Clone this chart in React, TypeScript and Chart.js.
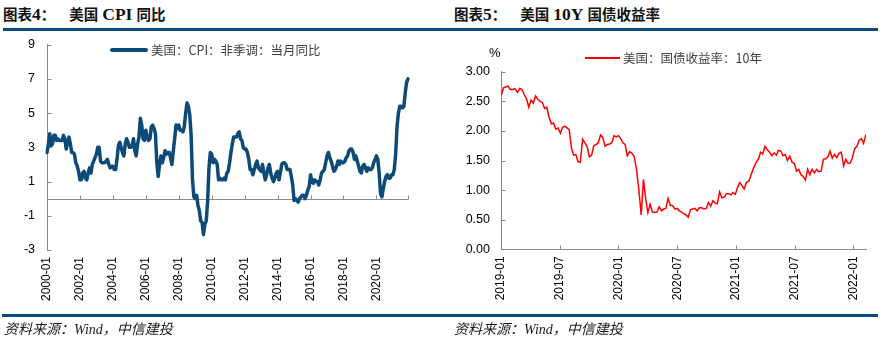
import React, { useEffect, useRef } from "react";
import { Chart, registerables } from "chart.js";

Chart.register(...registerables);

// ---------- Data ----------
// US CPI YoY, monthly, 2000-01 .. 2021-12
const cpiStartYear = 2000;
const cpiValues: number[] = [
  2.7, 3.2, 3.8, 3.1, 3.2, 3.7, 3.7, 3.4, 3.5, 3.4, 3.4, 3.4,
  3.7, 3.5, 2.9, 3.3, 3.6, 3.2, 2.7, 2.7, 2.6, 2.1, 1.9, 1.6,
  1.1, 1.1, 1.5, 1.6, 1.2, 1.1, 1.5, 1.8, 1.5, 2.0, 2.2, 2.4,
  2.6, 3.0, 3.0, 2.2, 2.1, 2.1, 2.1, 2.2, 2.3, 2.0, 1.8, 1.9,
  1.9, 1.7, 1.7, 2.3, 3.1, 3.3, 3.0, 2.7, 2.5, 3.2, 3.5, 3.3,
  3.0, 3.0, 3.1, 3.5, 2.8, 2.5, 3.2, 3.6, 4.7, 4.3, 3.5, 3.4,
  4.0, 3.6, 3.4, 3.5, 4.2, 4.3, 4.1, 3.8, 2.1, 1.3, 2.0, 2.5,
  2.1, 2.4, 2.8, 2.6, 2.7, 2.7, 2.4, 2.0, 2.8, 3.5, 4.3, 4.1,
  4.3, 4.0, 4.0, 3.9, 4.2, 5.0, 5.6, 5.4, 4.9, 3.7, 1.1, 0.1,
  0.0, 0.2, -0.4, -0.7, -1.3, -1.4, -2.1, -1.5, -1.3, -0.2, 1.8, 2.7,
  2.6, 2.1, 2.3, 2.2, 2.0, 1.1, 1.2, 1.1, 1.1, 1.2, 1.1, 1.5,
  1.6, 2.1, 2.7, 3.2, 3.6, 3.6, 3.6, 3.8, 3.9, 3.5, 3.4, 3.0,
  2.9, 2.9, 2.7, 2.3, 1.7, 1.7, 1.4, 1.7, 2.0, 2.2, 1.8, 1.7,
  1.6, 2.0, 1.5, 1.1, 1.4, 1.8, 2.0, 1.5, 1.2, 1.0, 1.2, 1.5,
  1.6, 1.1, 1.5, 2.0, 2.1, 2.1, 2.0, 1.7, 1.7, 1.7, 1.3, 0.8,
  -0.1, 0.0, -0.1, -0.2, 0.0, 0.1, 0.2, 0.2, 0.0, 0.2, 0.5, 0.7,
  1.4, 1.0, 0.9, 1.1, 1.0, 1.0, 0.8, 1.1, 1.5, 1.6, 1.7, 2.1,
  2.5, 2.7, 2.4, 2.2, 1.9, 1.6, 1.7, 1.9, 2.2, 2.0, 2.2, 2.1,
  2.1, 2.2, 2.4, 2.5, 2.8, 2.9, 2.9, 2.7, 2.3, 2.5, 2.2, 1.9,
  1.6, 1.5, 1.9, 2.0, 1.8, 1.6, 1.8, 1.7, 1.7, 1.8, 2.1, 2.3,
  2.5, 2.3, 1.5, 0.3, 0.1, 0.6, 1.0, 1.3, 1.4, 1.2, 1.2, 1.4,
  1.4, 1.7, 2.6, 4.2, 5.0, 5.4, 5.4, 5.3, 5.4, 6.2, 6.8, 7.0,
];
const cpiLabels: string[] = cpiValues.map(
  (_, i) => `${cpiStartYear + Math.floor(i / 12)}-${String((i % 12) + 1).padStart(2, "0")}`
);
const cpiYMin = -3;
const cpiYMax = 9;
const cpiYStep = 2;
const cpiLabelEvery = 24;
const cpiLegend = "美国：CPI：非季调：当月同比";

// US 10Y Treasury yield, weekly samples starting 2019-01-02
const yieldStartDate = "2019-01-02";
const yieldValues: number[] = [
  // 2019
  2.60, 2.73, 2.74, 2.76, 2.70, 2.70, 2.71, 2.65, 2.72, 2.69, 2.61, 2.54, 2.40,
  2.52, 2.47, 2.59, 2.53, 2.50, 2.48, 2.38, 2.40, 2.24, 2.12, 2.13, 2.03, 2.05,
  1.96, 2.06, 2.08, 2.05, 2.02, 1.71, 1.59, 1.60, 1.48, 1.47, 1.86, 1.80, 1.73,
  1.56, 1.59, 1.75, 1.77, 1.80, 1.93, 1.89, 1.74, 1.77, 1.78, 1.80, 1.92, 1.90,
  1.92,
  // 2020
  1.87, 1.80, 1.77, 1.58, 1.65, 1.62, 1.56, 1.33, 0.98, 0.58, 1.18, 0.86,
  0.62, 0.76, 0.63, 0.62, 0.63, 0.72, 0.65, 0.68, 0.69, 0.86, 0.74, 0.74, 0.68,
  0.69, 0.65, 0.63, 0.60, 0.58, 0.54, 0.67, 0.68, 0.69, 0.65, 0.70, 0.70, 0.68,
  0.69, 0.79, 0.73, 0.82, 0.78, 0.77, 0.97, 0.87, 0.88, 0.94, 0.94, 0.92, 0.96,
  0.93,
  // 2021
  1.04, 1.13, 1.08, 1.02, 1.13, 1.15, 1.27, 1.38, 1.47, 1.52, 1.64, 1.61, 1.74,
  1.68, 1.64, 1.58, 1.63, 1.59, 1.67, 1.66, 1.58, 1.60, 1.50, 1.57, 1.47, 1.45,
  1.32, 1.35, 1.26, 1.23, 1.17, 1.35, 1.26, 1.35, 1.29, 1.35, 1.31, 1.32, 1.52,
  1.53, 1.56, 1.66, 1.54, 1.60, 1.55, 1.62, 1.64, 1.41, 1.52, 1.45, 1.46, 1.55,
  // 2022
  1.70, 1.74, 1.84, 1.87, 1.79, 1.94,
];
const yieldOriginYear = 2019;
const yieldYMin = 0;
const yieldYMax = 3;
const yieldYStep = 0.5;
const yieldTickMonths = [0, 6, 12, 18, 24, 30, 36];
const yieldLegend = "美国：国债收益率：10年";

const footerText = "资料来源：Wind，中信建投";

// ---------- Styles ----------
const NAVY = "#0D4A78";
const RULE = "#0B4A7D";
const RED = "#FF0000";
const AXIS = "#8A8A8A";
const SANS = '"Liberation Sans", Arial, sans-serif';
const CJK = '"Noto Sans CJK SC", sans-serif';
const SERIF = '"Liberation Serif", "Times New Roman", serif';

function monthIndex(d: Date): number {
  const y = d.getUTCFullYear();
  const m = d.getUTCMonth();
  const day = d.getUTCDate();
  const dim = new Date(Date.UTC(y, m + 1, 0)).getUTCDate();
  return (y - yieldOriginYear) * 12 + m + (day - 1) / dim;
}
const yieldStartMs = Date.parse(yieldStartDate + "T00:00:00Z");
const yieldPoints = yieldValues.map((v, i) => ({
  x: monthIndex(new Date(yieldStartMs + i * 7 * 86400000)),
  y: v,
}));

// inward tick marks + optional base line
const inwardTicks = {
  id: "inwardTicks",
  beforeDatasetsDraw(chart: any, _args: any, opts: any) {
    const { ctx, chartArea, scales } = chart;
    const xs = scales.x;
    const ys = scales.y;
    ctx.save();
    ctx.strokeStyle = AXIS;
    ctx.lineWidth = 1;
    ctx.beginPath();
    const ax = Math.round(chartArea.left) + 0.5;
    ys.ticks.forEach((t: any) => {
      const py = Math.round(ys.getPixelForValue(t.value)) + 0.5;
      ctx.moveTo(ax, py);
      ctx.lineTo(ax + 4, py);
    });
    const baseY =
      opts.baseValue !== undefined
        ? Math.round(ys.getPixelForValue(opts.baseValue)) + 0.5
        : Math.round(chartArea.bottom) + 0.5;
    if (opts.baseLine) {
      ctx.moveTo(chartArea.left, baseY);
      ctx.lineTo(chartArea.right, baseY);
    }
    (opts.xTicks || []).forEach((v: number) => {
      const px = Math.round(xs.getPixelForValue(v)) + 0.5;
      ctx.moveTo(px, baseY);
      ctx.lineTo(px, baseY - 4);
    });
    ctx.stroke();
    ctx.restore();
  },
};

function CpiChart() {
  const ref = useRef<HTMLCanvasElement>(null);
  useEffect(() => {
    const cpiXTicks: number[] = [];
    for (let i = 0; i < cpiValues.length; i += cpiLabelEvery) cpiXTicks.push(i);
    cpiXTicks.push(cpiValues.length - 1);
    const chart = new Chart(ref.current as HTMLCanvasElement, {
      type: "line",
      data: {
        labels: cpiLabels,
        datasets: [
          {
            data: cpiValues,
            borderColor: NAVY,
            borderWidth: 3.5,
            pointRadius: 0,
            tension: 0,
            borderJoinStyle: "round",
            borderCapStyle: "round",
          },
        ],
      },
      options: {
        animation: false,
        responsive: false,
        devicePixelRatio: 1,
        layout: { padding: { top: 44.7, right: 35, bottom: 35, left: 0 } },
        plugins: {
          legend: { display: false },
          tooltip: { enabled: false },
          inwardTicks: { baseValue: 0, baseLine: true, xTicks: cpiXTicks },
        } as any,
        scales: {
          x: {
            type: "category",
            offset: false,
            grid: { display: false, drawTicks: false },
            border: { display: false },
            ticks: {
              autoSkip: false,
              minRotation: 90,
              maxRotation: 90,
              padding: 7,
              color: "#000",
              font: { family: SANS, size: 12 },
              callback: (_v: any, i: number) => (i % cpiLabelEvery === 0 ? cpiLabels[i] : null),
            },
            afterFit: (s: any) => {
              s.height = 60;
            },
          },
          y: {
            min: cpiYMin,
            max: cpiYMax,
            grid: { display: false, drawTicks: false },
            border: { display: true, color: AXIS },
            ticks: {
              stepSize: cpiYStep,
              padding: 12,
              color: "#000",
              font: { family: SANS, size: 12.5 },
            },
            afterFit: (s: any) => {
              s.width = 47;
            },
          },
        },
      } as any,
      plugins: [inwardTicks],
    });
    return () => chart.destroy();
  }, []);
  return (
    <canvas
      ref={ref}
      width={443}
      height={345}
      style={{ position: "absolute", left: 0, top: 0, width: 443, height: 345 }}
    />
  );
}

function YieldChart() {
  const ref = useRef<HTMLCanvasElement>(null);
  useEffect(() => {
    const xMax = yieldPoints[yieldPoints.length - 1].x;
    const chart = new Chart(ref.current as HTMLCanvasElement, {
      type: "line",
      data: {
        datasets: [
          {
            data: yieldPoints,
            borderColor: RED,
            borderWidth: 1.5,
            pointRadius: 0,
            tension: 0,
          },
        ],
      },
      options: {
        animation: false,
        responsive: false,
        devicePixelRatio: 1,
        layout: { padding: { top: 71.7, right: 20, bottom: 35.7, left: 0 } },
        plugins: {
          legend: { display: false },
          tooltip: { enabled: false },
          inwardTicks: { xTicks: yieldTickMonths },
        } as any,
        scales: {
          x: {
            type: "linear",
            min: 0,
            max: xMax,
            grid: { display: false, drawTicks: false },
            border: { display: true, color: AXIS },
            afterBuildTicks: (s: any) => {
              s.ticks = yieldTickMonths.map((v) => ({ value: v }));
            },
            ticks: {
              autoSkip: false,
              minRotation: 90,
              maxRotation: 90,
              padding: 7,
              color: "#000",
              font: { family: SANS, size: 12 },
              callback: (v: any) => {
                const n = Math.round(Number(v));
                return `${yieldOriginYear + Math.floor(n / 12)}-${String((n % 12) + 1).padStart(2, "0")}`;
              },
            },
            afterFit: (s: any) => {
              s.height = 60;
            },
          },
          y: {
            min: yieldYMin,
            max: yieldYMax,
            grid: { display: false, drawTicks: false },
            border: { display: true, color: AXIS },
            ticks: {
              stepSize: yieldYStep,
              padding: 11,
              color: "#000",
              font: { family: SANS, size: 12.5 },
              callback: (v: any) => Number(v).toFixed(2),
            },
            afterFit: (s: any) => {
              s.width = 58;
            },
          },
        },
      } as any,
      plugins: [inwardTicks],
    });
    return () => chart.destroy();
  }, []);
  return (
    <canvas
      ref={ref}
      width={443}
      height={345}
      style={{ position: "absolute", left: 443, top: 0, width: 443, height: 345 }}
    />
  );
}

const titleBase: React.CSSProperties = {
  position: "absolute",
  top: 4,
  fontFamily: CJK,
  fontWeight: "bold",
  fontSize: 14.5,
  lineHeight: "20px",
  color: "#111",
  whiteSpace: "pre",
};
const latin: React.CSSProperties = { fontFamily: SERIF, fontSize: 17.5, fontWeight: "bold" };
const legendText: React.CSSProperties = {
  fontFamily: CJK,
  fontSize: 12.5,
  color: "#404040",
  lineHeight: "16px",
  marginLeft: 3,
  whiteSpace: "pre",
};
const footerStyle: React.CSSProperties = {
  position: "absolute",
  top: 321,
  fontFamily: `${SERIF.split(",")[0]}, ${CJK}`,
  fontStyle: "italic",
  fontSize: 14,
  lineHeight: "18px",
  color: "#1a1a1a",
  whiteSpace: "pre",
};

export default function App() {
  return (
    <div
      style={{
        position: "absolute",
        left: 0,
        top: 0,
        width: 886,
        height: 345,
        background: "#fff",
        overflow: "hidden",
      }}
    >
      <div style={{ ...titleBase, left: 3 }}>
        图表<span style={latin}>4</span>：<span style={{ marginLeft: 14 }}>美国</span>
        <span style={{ ...latin, marginLeft: 4, marginRight: 4 }}>CPI</span>同比
      </div>
      <div style={{ ...titleBase, left: 454 }}>
        图表<span style={latin}>5</span>：<span style={{ marginLeft: 14 }}>美国</span>
        <span style={{ ...latin, marginLeft: 4, marginRight: 4 }}>10Y</span>国债收益率
      </div>
      <div style={{ position: "absolute", left: 3, top: 27.5, width: 875, height: 3, background: RULE }} />

      <CpiChart />
      <YieldChart />

      <div style={{ position: "absolute", left: 110, top: 42, display: "flex", alignItems: "center", height: 16 }}>
        <span style={{ display: "inline-block", width: 38, height: 4, borderRadius: 2, background: NAVY }} />
        <span style={legendText}>{cpiLegend}</span>
      </div>
      <div style={{ position: "absolute", left: 585, top: 50, display: "flex", alignItems: "center", height: 16 }}>
        <span style={{ display: "inline-block", width: 35, height: 2, background: RED }} />
        <span style={legendText}>{yieldLegend}</span>
      </div>
      <div
        style={{
          position: "absolute",
          left: 489,
          top: 45,
          fontFamily: SANS,
          fontSize: 13,
          lineHeight: "16px",
          color: "#000",
        }}
      >
        %
      </div>

      <div style={{ position: "absolute", left: 2, top: 313.5, width: 876, height: 3, background: RULE }} />
      <div style={{ ...footerStyle, left: 4 }}>{footerText}</div>
      <div style={{ ...footerStyle, left: 454 }}>{footerText}</div>
    </div>
  );
}
